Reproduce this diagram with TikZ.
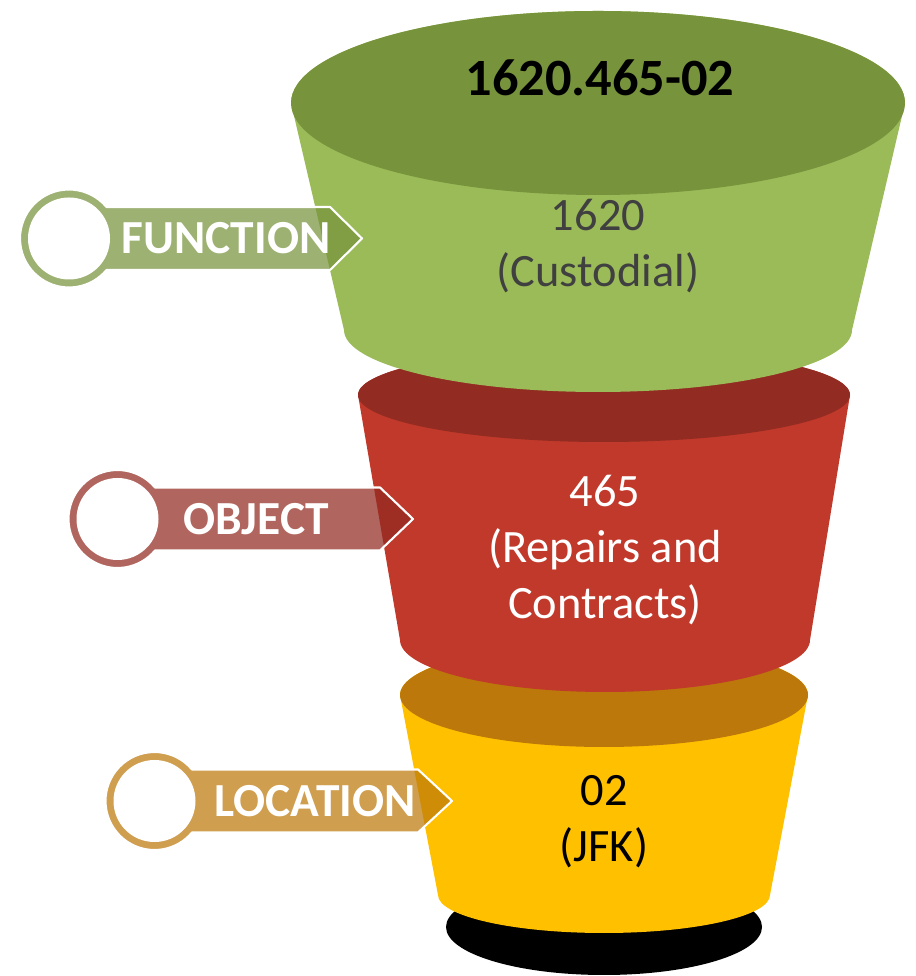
\documentclass[tikz,border=0pt]{standalone}
\usepackage{fontspec}
\setmainfont{Carlito}
\usepackage{tikz}

\definecolor{greenbody}{HTML}{9BBB59}
\definecolor{greentop}{HTML}{77933C}
\definecolor{redbody}{HTML}{C0392B}
\definecolor{redtop}{HTML}{922B21}
\definecolor{yellowbody}{HTML}{FFC000}
\definecolor{yellowtop}{HTML}{BC780A}
\definecolor{greytext}{HTML}{404040}

\tikzset{
  tabtext/.style={text=white, font=\bfseries\fontsize{13.5}{16}\selectfont},
  bodytext/.style={align=center, font=\fontsize{13.2}{16}\selectfont},
  tabshape/.style={fill opacity=0.72, draw=white, line width=0.6pt, line join=round},
  tabhole/.style={fill=white}
}

\begin{document}
\begin{tikzpicture}
\useasboundingbox (0,0) rectangle (9.16,9.76);

% base
\fill[black] (6.04,0.49) ellipse[x radius=1.58, y radius=0.48];

% location part
\fill[yellowbody] (4.00,2.81) -- (4.38,0.81) arc[start angle=180, end angle=360, x radius=1.66, y radius=0.38]
  -- (8.08,2.81) arc[start angle=0, end angle=180, x radius=2.04, y radius=0.52] -- cycle;
\fill[yellowtop] (6.04,2.81) ellipse[x radius=2.04, y radius=0.52];

% object part
\fill[redbody] (3.58,5.81) -- (4.00,3.36) arc[start angle=180, end angle=360, x radius=2.05, y radius=0.52]
  -- (8.50,5.81) arc[start angle=0, end angle=180, x radius=2.46, y radius=0.47] -- cycle;
\fill[redtop] (6.04,5.81) ellipse[x radius=2.46, y radius=0.47];

% function part
\fill[greenbody] (2.91,8.73) -- (3.44,6.46) arc[start angle=180, end angle=360, x radius=2.54, y radius=0.62]
  -- (9.05,8.73) arc[start angle=0, end angle=180, x radius=3.07, y radius=0.92] -- cycle;
\fill[greentop] (5.98,8.73) ellipse[x radius=3.07, y radius=0.92];

\node[font=\bfseries\fontsize{14.9}{18}\selectfont] (code) at (6.00,8.98) {1620.465-02};
\node[bodytext, text=greytext] (func) at (5.98,7.30) {1620\\(Custodial)};
\node[bodytext, text=white] (obj) at (6.05,4.26) {465\\(Repairs and\\Contracts)};
\node[bodytext, text=black] (loc) at (6.04,1.54) {02\\(JFK)};

% tabs
\fill[tabshape, fill=greentop] (0.69,7.375) ++(40:0.49) arc[start angle=40, end angle=320, radius=0.49]
  -- (3.30,7.06) -- (3.62,7.375) -- (3.30,7.69) -- cycle;
\fill[tabhole] (0.69,7.375) circle[radius=0.41];
\node[tabtext] (functab) at (2.26,7.375) {FUNCTION};

\fill[tabshape, fill=redtop] (1.175,4.57) ++(40:0.49) arc[start angle=40, end angle=320, radius=0.49]
  -- (3.80,4.255) -- (4.13,4.57) -- (3.80,4.885) -- cycle;
\fill[tabhole] (1.175,4.57) circle[radius=0.41];
\node[tabtext] (objtab) at (2.56,4.57) {OBJECT};

\fill[tabshape, fill=yellowtop] (1.545,1.75) ++(40:0.49) arc[start angle=40, end angle=320, radius=0.49]
  -- (4.18,1.435) -- (4.52,1.75) -- (4.18,2.065) -- cycle;
\fill[tabhole] (1.545,1.75) circle[radius=0.41];
\node[tabtext] (loctab) at (3.15,1.75) {LOCATION};
\end{tikzpicture}
\end{document}
